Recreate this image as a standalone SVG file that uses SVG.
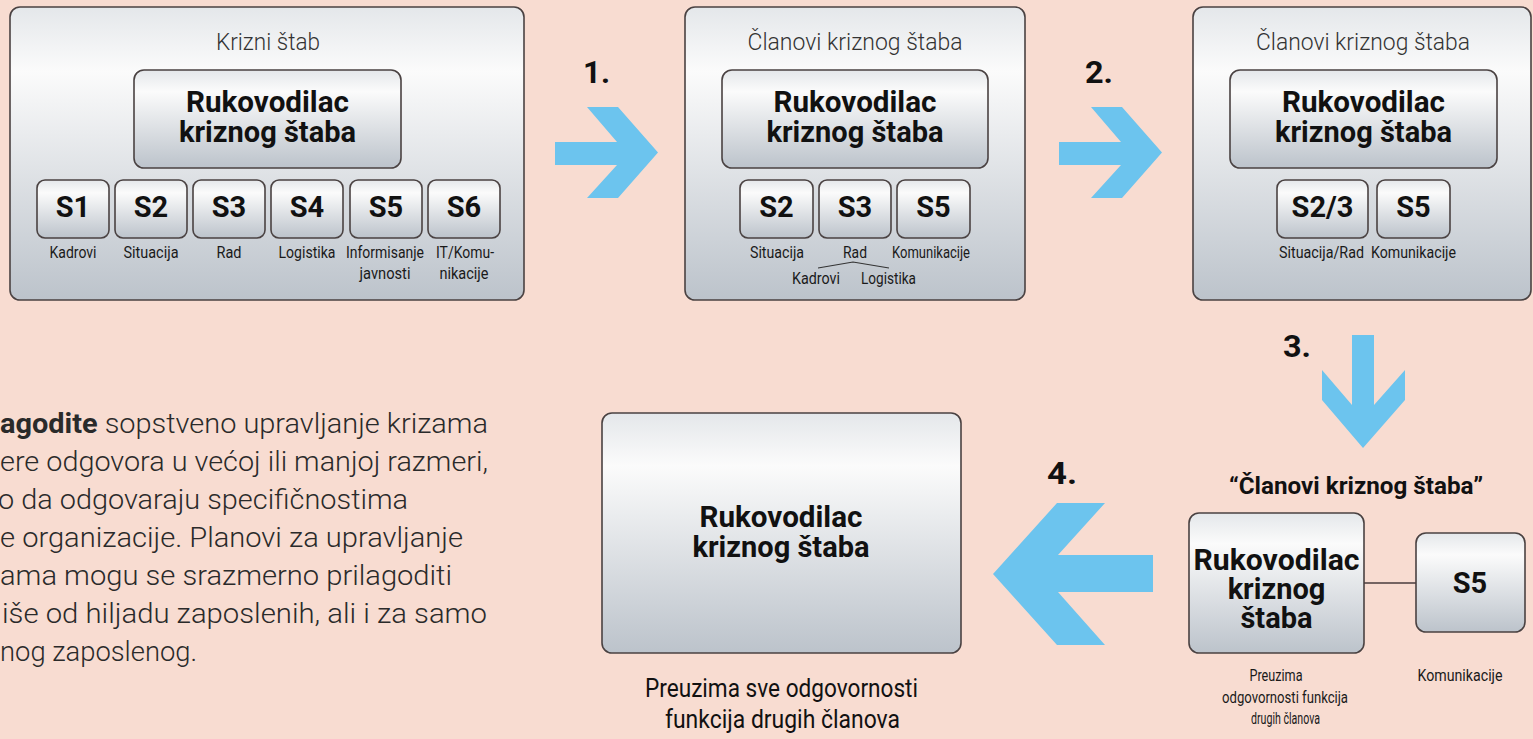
<svg xmlns="http://www.w3.org/2000/svg" width="1533" height="739" viewBox="0 0 1533 739">
<defs>
<linearGradient id="g" x1="0" y1="0" x2="0" y2="1">
<stop offset="0" stop-color="#e4e7ea"/>
<stop offset="0.22" stop-color="#fbfbfb"/>
<stop offset="1" stop-color="#bcc3cb"/>
</linearGradient>
<style>
.box{fill:url(#g);stroke:#4a4242;stroke-width:1.6}
.title{font-family:Roboto,"Liberation Sans",sans-serif;font-weight:300;font-size:24px;fill:#333;text-anchor:middle}
.big{font-family:Roboto,"Liberation Sans",sans-serif;font-weight:700;font-size:29px;fill:#111;text-anchor:middle}
.s{font-family:Roboto,"Liberation Sans",sans-serif;font-weight:700;font-size:29px;fill:#111;text-anchor:middle}
.lbl{font-family:Roboto,"Liberation Sans",sans-serif;font-weight:400;font-size:17px;fill:#1a1a1a;text-anchor:middle}
.cap{font-family:Roboto,"Liberation Sans",sans-serif;font-weight:400;font-size:16px;fill:#1a1a1a;text-anchor:middle}
.cap2{font-family:Roboto,"Liberation Sans",sans-serif;font-weight:400;font-size:25px;fill:#111;text-anchor:middle}
.quote{font-family:Roboto,"Liberation Sans",sans-serif;font-weight:700;font-size:24px;fill:#111;text-anchor:middle}
.num{font-family:Roboto,"Liberation Sans",sans-serif;font-weight:700;font-size:32px;fill:#111}
.para{font-family:Roboto,"Liberation Sans",sans-serif;font-weight:300;font-size:28px;fill:#2a2a2a}
.arrow{fill:#6cc4ee}
.conn{stroke:#4a3c3c;stroke-width:1.5;fill:none}
</style>
</defs>
<rect width="1533" height="739" fill="#f8dcd1"/>

<g id="stab1">
<rect class="box" x="10" y="7" width="514" height="293" rx="10"/>
<text class="title" x="268" y="50" textLength="104" lengthAdjust="spacingAndGlyphs">Krizni štab</text>
</g>
<g id="stab1-rukovodilac">
<rect class="box" x="134" y="70" width="267" height="98" rx="10"/>
<text class="big" x="267.5" y="112" textLength="163" lengthAdjust="spacingAndGlyphs">Rukovodilac</text>
<text class="big" x="267.5" y="142" textLength="177" lengthAdjust="spacingAndGlyphs">kriznog štaba</text>
</g>
<g id="stab1-s1"><rect class="box" x="37" y="180" width="72" height="58" rx="8"/><text class="s" x="73" y="217">S1</text><text class="lbl" x="73" y="258" textLength="47" lengthAdjust="spacingAndGlyphs">Kadrovi</text></g>
<g id="stab1-s2"><rect class="box" x="115" y="180" width="72" height="58" rx="8"/><text class="s" x="151" y="217">S2</text><text class="lbl" x="151" y="258" textLength="55" lengthAdjust="spacingAndGlyphs">Situacija</text></g>
<g id="stab1-s3"><rect class="box" x="193" y="180" width="72" height="58" rx="8"/><text class="s" x="229" y="217">S3</text><text class="lbl" x="229" y="258" textLength="25" lengthAdjust="spacingAndGlyphs">Rad</text></g>
<g id="stab1-s4"><rect class="box" x="271" y="180" width="72" height="58" rx="8"/><text class="s" x="307" y="217">S4</text><text class="lbl" x="307" y="258" textLength="57" lengthAdjust="spacingAndGlyphs">Logistika</text></g>
<g id="stab1-s5"><rect class="box" x="350" y="180" width="72" height="58" rx="8"/><text class="s" x="386" y="217">S5</text><text class="lbl" x="385" y="258" textLength="78" lengthAdjust="spacingAndGlyphs">Informisanje</text><text class="lbl" x="385" y="279" textLength="51" lengthAdjust="spacingAndGlyphs">javnosti</text></g>
<g id="stab1-s6"><rect class="box" x="428" y="180" width="72" height="58" rx="8"/><text class="s" x="464" y="217">S6</text><text class="lbl" x="465" y="258" textLength="58" lengthAdjust="spacingAndGlyphs">IT/Komu-</text><text class="lbl" x="464" y="279" textLength="49" lengthAdjust="spacingAndGlyphs">nikacije</text></g>

<g id="stab2">
<rect class="box" x="685" y="7" width="340" height="293" rx="10"/>
<text class="title" x="855" y="50" textLength="215" lengthAdjust="spacingAndGlyphs">Članovi kriznog štaba</text>
</g>
<g id="stab2-rukovodilac">
<rect class="box" x="722" y="70" width="266" height="98" rx="10"/>
<text class="big" x="855" y="112" textLength="163" lengthAdjust="spacingAndGlyphs">Rukovodilac</text>
<text class="big" x="855" y="142" textLength="177" lengthAdjust="spacingAndGlyphs">kriznog štaba</text>
</g>
<g id="stab2-s2"><rect class="box" x="740" y="180" width="73" height="58" rx="8"/><text class="s" x="776.5" y="217">S2</text><text class="lbl" x="777" y="258" textLength="54" lengthAdjust="spacingAndGlyphs">Situacija</text></g>
<g id="stab2-s3"><rect class="box" x="819" y="180" width="72" height="58" rx="8"/><text class="s" x="855" y="217">S3</text><text class="lbl" x="855" y="258" textLength="24" lengthAdjust="spacingAndGlyphs">Rad</text><text class="lbl" x="816" y="284" textLength="48" lengthAdjust="spacingAndGlyphs">Kadrovi</text><text class="lbl" x="888.5" y="284" textLength="55" lengthAdjust="spacingAndGlyphs">Logistika</text></g>
<g id="stab2-s5"><rect class="box" x="897" y="180" width="73" height="58" rx="8"/><text class="s" x="933.5" y="217">S5</text><text class="lbl" x="931" y="258" textLength="78" lengthAdjust="spacingAndGlyphs">Komunikacije</text></g>

<g id="stab3">
<rect class="box" x="1193" y="7" width="338" height="293" rx="10"/>
<text class="title" x="1363" y="50" textLength="214" lengthAdjust="spacingAndGlyphs">Članovi kriznog štaba</text>
</g>
<g id="stab3-rukovodilac">
<rect class="box" x="1230" y="70" width="267" height="98" rx="10"/>
<text class="big" x="1363.5" y="112" textLength="163" lengthAdjust="spacingAndGlyphs">Rukovodilac</text>
<text class="big" x="1363.5" y="142" textLength="177" lengthAdjust="spacingAndGlyphs">kriznog štaba</text>
</g>
<g id="stab3-s23"><rect class="box" x="1277" y="180" width="91" height="58" rx="8"/><text class="s" x="1322.5" y="217">S2/3</text><text class="lbl" x="1321.5" y="258" textLength="85" lengthAdjust="spacingAndGlyphs">Situacija/Rad</text></g>
<g id="stab3-s5"><rect class="box" x="1377" y="180" width="73" height="58" rx="8"/><text class="s" x="1413.5" y="217">S5</text><text class="lbl" x="1413.5" y="258" textLength="85" lengthAdjust="spacingAndGlyphs">Komunikacije</text></g>

<g id="stab4">
<text class="quote" x="1356" y="494" textLength="254" lengthAdjust="spacingAndGlyphs">“Članovi kriznog štaba”</text>
</g>
<g id="stab4-rukovodilac">
<rect class="box" x="1189" y="513" width="175" height="140" rx="10"/>
<text class="big" x="1276.5" y="570" textLength="166" lengthAdjust="spacingAndGlyphs">Rukovodilac</text>
<text class="big" x="1276.5" y="599">kriznog</text>
<text class="big" x="1276.5" y="628">štaba</text>
<text class="cap" x="1276" y="681" textLength="53" lengthAdjust="spacingAndGlyphs">Preuzima</text>
<text class="cap" x="1285" y="703" textLength="126" lengthAdjust="spacingAndGlyphs">odgovornosti funkcija</text>
<text class="cap" x="1285.5" y="724" textLength="69" lengthAdjust="spacingAndGlyphs">drugih članova</text>
</g>
<g id="stab4-s5">
<rect class="box" x="1416" y="533" width="109" height="99" rx="10"/>
<text class="s" x="1470" y="593">S5</text>
<text class="cap" x="1460" y="681" textLength="85" lengthAdjust="spacingAndGlyphs">Komunikacije</text>
</g>

<g id="stab5">
<rect class="box" x="602" y="413" width="359" height="240" rx="10"/>
<text class="big" x="781" y="527" textLength="163" lengthAdjust="spacingAndGlyphs">Rukovodilac</text>
<text class="big" x="781" y="557" textLength="177" lengthAdjust="spacingAndGlyphs">kriznog štaba</text>
<text class="cap2" x="781.5" y="697" textLength="273" lengthAdjust="spacingAndGlyphs">Preuzima sve odgovornosti</text>
<text class="cap2" x="782.5" y="728" textLength="235" lengthAdjust="spacingAndGlyphs">funkcija drugih članova</text>
</g>

<g id="connectors">
<polygon class="arrow" points="555,142 617,142 587,107 618,107 658,152.5 618,198 587,198 617,165 555,165"/>
<polygon class="arrow" points="1059,142 1121,142 1091,107 1122,107 1162,152.5 1122,198 1091,198 1121,165 1059,165"/>
<polygon class="arrow" points="1352,335 1374,335 1374,405 1405,370 1405,400 1363,448 1322,400 1322,370 1352,405"/>
<polygon class="arrow" points="993,574 1057,503 1105,503 1058,555 1153,555 1153,592 1058,592 1105,645 1057,645"/>
<text class="num" x="583" y="83" textLength="27" lengthAdjust="spacingAndGlyphs">1.</text>
<text class="num" x="1085" y="83" textLength="28" lengthAdjust="spacingAndGlyphs">2.</text>
<text class="num" x="1283" y="357" textLength="28" lengthAdjust="spacingAndGlyphs">3.</text>
<text class="num" x="1047" y="484" textLength="30" lengthAdjust="spacingAndGlyphs">4.</text>
<polyline class="conn" points="818,268 853,262 889,268" style="stroke:#333;stroke-width:1.2"/>
<line class="conn" x1="1364" y1="583" x2="1416" y2="583"/>
</g>

<g id="paragraph">
<text class="para" x="0" y="433" textLength="488" lengthAdjust="spacingAndGlyphs"><tspan font-weight="700">agodite</tspan> sopstveno upravljanje krizama</text>
<text class="para" x="0" y="471" textLength="488" lengthAdjust="spacingAndGlyphs">ere odgovora u većoj ili manjoj razmeri,</text>
<text class="para" x="-2" y="509" textLength="410" lengthAdjust="spacingAndGlyphs">o da odgovaraju specifičnostima</text>
<text class="para" x="0" y="547" textLength="463" lengthAdjust="spacingAndGlyphs">e organizacije. Planovi za upravljanje</text>
<text class="para" x="0" y="585" textLength="452" lengthAdjust="spacingAndGlyphs">ama mogu se srazmerno prilagoditi</text>
<text class="para" x="2" y="623" textLength="485" lengthAdjust="spacingAndGlyphs">iše od hiljadu zaposlenih, ali i za samo</text>
<text class="para" x="0" y="661" textLength="197" lengthAdjust="spacingAndGlyphs">nog zaposlenog.</text>
</g>
</svg>
